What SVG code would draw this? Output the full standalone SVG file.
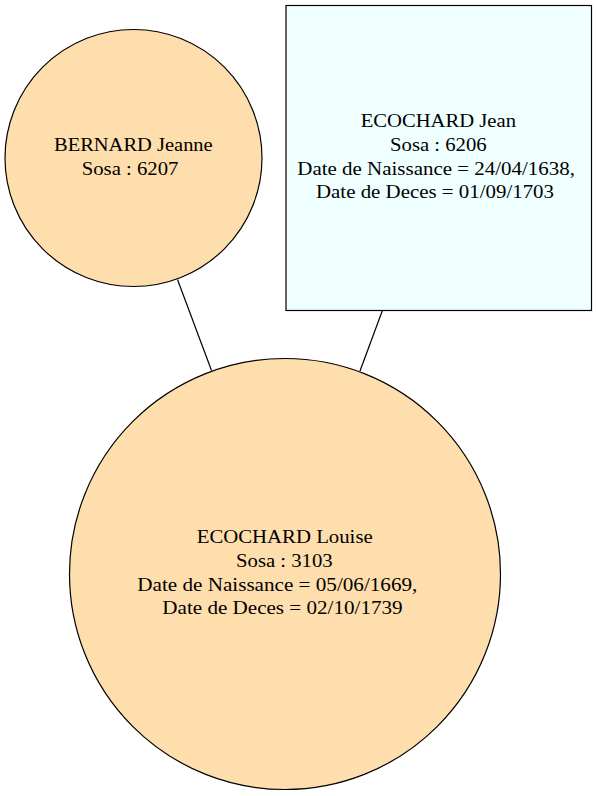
<svg xmlns="http://www.w3.org/2000/svg" width="597" height="796" viewBox="0 0 597 796">
<style>
.bg{fill:#ffffff}
.person{fill:#ffdead;stroke:#000;stroke-width:1.2}
.box{fill:#f0ffff;stroke:#000;stroke-width:1.2}
.edge{stroke:#000;stroke-width:1.2;fill:none}
.lbl{font-family:'Liberation Serif','Times New Roman',Tinos,'DejaVu Serif',serif;font-size:18px;fill:#000}
</style>
<rect class="bg" x="0" y="0" width="597" height="796"/>
<g id="connectors">
<line class="edge" x1="177.5" y1="279.5" x2="211.5" y2="370.5"/>
<line class="edge" x1="382.3" y1="310.7" x2="360" y2="371"/>
</g>
<g id="node-bernard-jeanne">
<circle class="person" cx="133.5" cy="158" r="128.5"/>
<text class="lbl" x="54" y="150.7" textLength="158.7" lengthAdjust="spacingAndGlyphs">BERNARD Jeanne</text>
<text class="lbl" x="81.7" y="175" textLength="96.7" lengthAdjust="spacingAndGlyphs">Sosa : 6207</text>
</g>
<g id="node-ecochard-jean">
<rect class="box" x="286" y="5.5" width="305.5" height="305"/>
<text class="lbl" x="360.7" y="127.3" textLength="155.3" lengthAdjust="spacingAndGlyphs">ECOCHARD Jean</text>
<text class="lbl" x="390" y="150.7" textLength="96.7" lengthAdjust="spacingAndGlyphs">Sosa : 6206</text>
<text class="lbl" x="297.3" y="175" textLength="277.7" lengthAdjust="spacingAndGlyphs">Date de Naissance = 24/04/1638,</text>
<text class="lbl" x="316" y="198.3" textLength="238" lengthAdjust="spacingAndGlyphs">Date de Deces = 01/09/1703</text>
</g>
<g id="node-ecochard-louise">
<circle class="person" cx="285" cy="574" r="215.5"/>
<text class="lbl" x="196.7" y="543.3" textLength="176" lengthAdjust="spacingAndGlyphs">ECOCHARD Louise</text>
<text class="lbl" x="236" y="566.7" textLength="96.7" lengthAdjust="spacingAndGlyphs">Sosa : 3103</text>
<text class="lbl" x="137.3" y="590.7" textLength="280" lengthAdjust="spacingAndGlyphs">Date de Naissance = 05/06/1669,</text>
<text class="lbl" x="162.3" y="614" textLength="240.3" lengthAdjust="spacingAndGlyphs">Date de Deces = 02/10/1739</text>
</g>
</svg>
